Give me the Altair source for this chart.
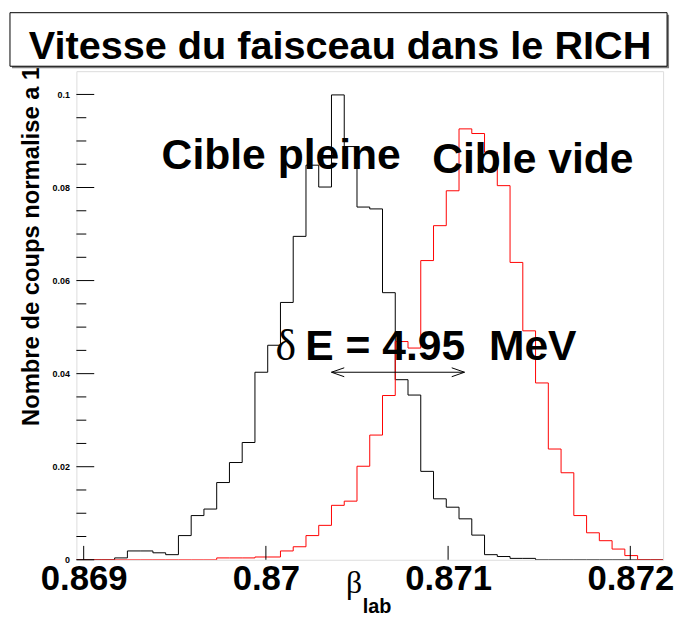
import altair as alt
import pandas as pd

# ---- data ----
x_start = 0.86896          # first bin lower edge
bin_width = 0.00007        # histogram bin width
x_domain = [0.86896, 0.87218]
y_domain = [0.0, 0.105]

cible_pleine = [0, 0, 0, 0.0004, 0.0019, 0.0019, 0.0015, 0.0011, 0.0052, 0.0095,
                0.0109, 0.0166, 0.0209, 0.0252, 0.0403, 0.0461, 0.0553, 0.0695, 0.0848, 0.0801,
                0.0999, 0.0888, 0.0758, 0.0754, 0.0574, 0.0387, 0.0354, 0.0190, 0.0131, 0.0113,
                0.0088, 0.0053, 0.0011, 0.0007, 0.0003, 0.0003, 0, 0, 0, 0,
                0, 0, 0, 0, 0, 0]
cible_vide = [0, 0, 0, 0, 0, 0, 0, 0, 0, 0,
              0, 0.0004, 0.0004, 0.0004, 0.0006, 0.0006, 0.0019, 0.0028, 0.0052, 0.0074,
              0.0117, 0.0126, 0.0201, 0.0268, 0.0353, 0.0469, 0.0455, 0.0643, 0.0718, 0.0793,
              0.0926, 0.0916, 0.0876, 0.0804, 0.0639, 0.0492, 0.0380, 0.0238, 0.0187, 0.0095,
              0.0058, 0.0041, 0.0023, 0.0009, 0, 0]

x_ticks = [0.869, 0.870, 0.871, 0.872]
y_major = [0.0, 0.02, 0.04, 0.06, 0.08, 0.10]
y_minor = [0.005, 0.01, 0.015, 0.025, 0.03, 0.035, 0.045, 0.05, 0.055,
           0.065, 0.07, 0.075, 0.085, 0.09, 0.095]

arrow_left, arrow_right, arrow_y = 0.87036, 0.87109, 0.0403

W, H = 592, 493
SANS = "Liberation Sans"
SERIF = "Liberation Serif"
NBSP = "\u00a0"


def steps(counts):
    n = len(counts)
    xs = [x_start + i * bin_width for i in range(n + 1)]
    ys = list(counts) + [counts[-1]]
    return pd.DataFrame({"beta": xs, "frac": ys, "order": list(range(n + 1))})


xscale = alt.Scale(domain=x_domain, nice=False, zero=False)
yscale = alt.Scale(domain=y_domain, nice=False, zero=False)

x_axis = alt.Axis(values=x_ticks, format=".3~f", title=None, grid=False, domain=False,
                  ticks=False, tickSize=0, labelPadding=2, labelFont=SANS,
                  labelFontSize=35, labelFontWeight="bold", labelColor="black",
                  labelOverlap=False, labelBound=False, labelFlush=False)
y_axis = alt.Axis(values=y_major, format=".2~f", title=None, grid=False, domain=False,
                  ticks=False, tickSize=0, labelPadding=7, labelFont=SANS,
                  labelFontSize=9, labelFontWeight="bold", labelColor="black",
                  labelOverlap=False, labelBound=False, labelFlush=False)

hist_black = alt.Chart(steps(cible_pleine)).mark_line(
    interpolate="step-after", color="black", strokeWidth=1, clip=True
).encode(
    x=alt.X("beta:Q", scale=xscale, axis=x_axis),
    y=alt.Y("frac:Q", scale=yscale, axis=y_axis),
    order="order:Q",
)

hist_red = alt.Chart(steps(cible_vide)).mark_line(
    interpolate="step-after", color="#ff0000", strokeWidth=1, clip=True
).encode(
    x=alt.X("beta:Q", scale=xscale, axis=x_axis),
    y=alt.Y("frac:Q", scale=yscale, axis=y_axis),
    order="order:Q",
)

ymaj = alt.Chart(pd.DataFrame({"frac": y_major})).mark_rule(
    color="black", strokeWidth=1).encode(
    y=alt.Y("frac:Q", scale=yscale, axis=y_axis), x=alt.value(0), x2=alt.value(18))
ymin = alt.Chart(pd.DataFrame({"frac": y_minor})).mark_rule(color="black", strokeWidth=1).encode(
    y=alt.Y("frac:Q", scale=yscale, axis=y_axis), x=alt.value(0), x2=alt.value(10))
xmaj = alt.Chart(pd.DataFrame({"beta": x_ticks})).mark_rule(color="black", strokeWidth=1).encode(
    x=alt.X("beta:Q", scale=xscale, axis=x_axis), y=alt.value(H), y2=alt.value(H - 14))

dx, dy = 0.00007, 0.00096
arrow_df = pd.DataFrame({
    "beta": [arrow_left, arrow_left, arrow_left, arrow_right, arrow_right],
    "beta2": [arrow_right, arrow_left + dx, arrow_left + dx, arrow_right - dx, arrow_right - dx],
    "frac": [arrow_y] * 5,
    "frac2": [arrow_y, arrow_y + dy, arrow_y - dy, arrow_y + dy, arrow_y - dy],
})
arrow = alt.Chart(arrow_df).mark_rule(color="black", strokeWidth=1).encode(
    x=alt.X("beta:Q", scale=xscale, axis=x_axis), x2="beta2:Q",
    y=alt.Y("frac:Q", scale=yscale, axis=y_axis), y2="frac2:Q")


def label(text, x, y, size, font=SANS, weight="bold", angle=0, align="left"):
    return alt.Chart(pd.DataFrame({"t": [text]})).mark_text(
        align=align, baseline="alphabetic", fontSize=size, font=font,
        fontWeight=weight, angle=angle, color="black"
    ).encode(text="t:N", x=alt.value(x), y=alt.value(y))


one = pd.DataFrame({"a": [1]})
box_shadow = alt.Chart(one).mark_rect(color="#7f7f7f").encode(
    x=alt.value(-65), x2=alt.value(598), y=alt.value(-57), y2=alt.value(-3))
box = alt.Chart(one).mark_rect(fill="white", stroke="black", strokeWidth=1).encode(
    x=alt.value(-67), x2=alt.value(596), y=alt.value(-59), y2=alt.value(-5))

y_title = label("Nombre de coups normalise a 1", -38, 358, 24, angle=270)
title = label("Vitesse du faisceau dans le RICH", 266, -12, 40, align="center")
t_pleine = label("Cible pleine", 86, 99, 43)
t_vide = label("Cible vide", 359, 103, 43)
t_delta = label("δ", 201, 291, 44, font=SERIF, weight="normal")
t_energy = label("E = 4.95" + NBSP + NBSP + "MeV", 231, 291, 43)
t_beta = label("β", 272, 527, 32, font=SERIF, weight="normal")
t_lab = label("lab", 289, 547, 20)

chart = alt.layer(
    hist_black, y_title, box_shadow, box, title, hist_red, ymaj, ymin, xmaj, arrow,
    t_pleine, t_vide, t_delta, t_energy, t_beta, t_lab,
).properties(
    width=W, height=H,
    autosize=alt.AutoSizeParams(type="none"),
    padding={"left": 69, "top": 61, "right": 12, "bottom": 56},
).configure_view(stroke="black", strokeWidth=1).configure(background="white")

chart.save("out.html", embed_options={"renderer": "svg", "actions": False})
